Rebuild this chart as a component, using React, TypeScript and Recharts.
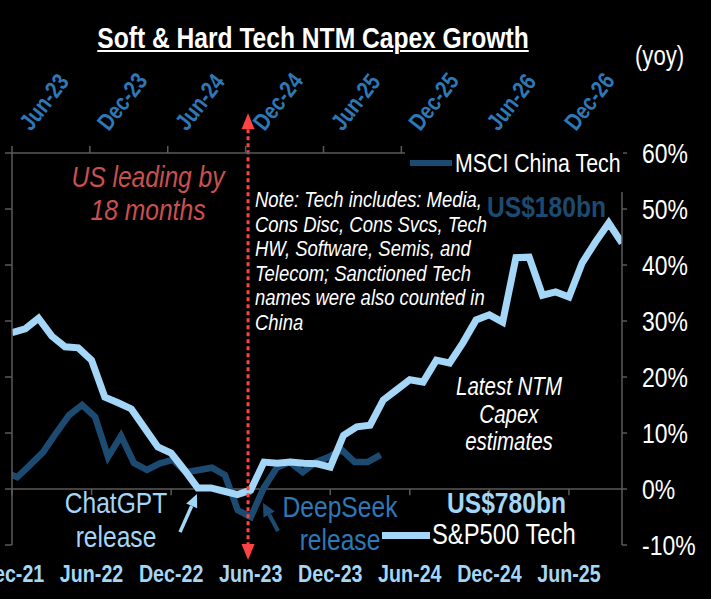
import React from 'react';
import { LineChart, Line, XAxis, YAxis, ReferenceLine } from 'recharts';

const FONT = "'Liberation Sans', Arial, sans-serif";
const SQ = 0.82; // horizontal squeeze to mimic a narrow face

const LIGHT = '#a3d6f7';
const DARK = '#1c4a70';
const MID = '#2e78b7';
const AXIS = '#5a5a5a';
const RED = '#ff4343';
const REDTEXT = '#c9504f';

// S&P500 Tech: months since Dec-21 (bottom axis)
const usMonths = [0, 1, 2, 3, 4, 5, 6, 7, 8, 9, 10, 11, 12, 13, 14, 15, 16, 17, 18, 19, 20, 21, 22, 23, 24, 25, 26, 27, 28, 29, 30, 31, 32, 33, 34, 35, 36, 37, 38, 39, 40, 41, 42, 43, 44, 45, 46];
const usCapexGrowth = [27.9, 28.6, 30.5, 27.3, 25.4, 25.2, 23.0, 16.4, 15.4, 14.3, 10.9, 7.5, 6.4, 3.4, 0.2, 0.2, -0.4, -1.0, -0.2, 4.8, 4.6, 4.8, 4.6, 4.5, 3.9, 9.6, 11.1, 11.4, 15.9, 17.7, 19.5, 19.1, 23.0, 22.5, 26.1, 30.2, 31.1, 29.8, 41.3, 41.4, 34.6, 35.2, 34.3, 40.4, 44.1, 47.5, 43.9];

// MSCI China Tech: months since Jun-23 (top axis, 18 months ahead)
const chinaMonths = [-0.6, 0.4, 1.4, 2.4, 3.4, 4.4, 5.4, 6.4, 7.4, 8.4, 9.4, 10.4, 11.4, 12.4, 13.4, 14.4, 15.4, 16.4, 17.4, 18.4, 19.4, 20.4, 21.4, 22.4, 23.4, 24.4, 25.4, 26.4, 27.4, 28.4];
const chinaCapexGrowth = [3.1, 2.1, 4.3, 6.6, 10.0, 13.2, 15.0, 12.9, 5.7, 9.5, 4.6, 3.4, 4.6, 5.2, 3.0, 3.4, 3.8, 2.5, -3.8, -5.0, 0.2, 3.8, 4.8, 3.0, 4.8, 5.7, 7.0, 4.8, 4.8, 6.1];

const bottomTicks = [0, 6, 12, 18, 24, 30, 36, 42];
const bottomTickLabels = ['Dec-21', 'Jun-22', 'Dec-22', 'Jun-23', 'Dec-23', 'Jun-24', 'Dec-24', 'Jun-25'];
const topTicks = [0, 6, 12, 18, 24, 30, 36, 42];
const topTickLabels = ['Jun-23', 'Dec-23', 'Jun-24', 'Dec-24', 'Jun-25', 'Dec-25', 'Jun-26', 'Dec-26'];
const yTicks = [-10, 0, 10, 20, 30, 40, 50, 60];

const usData = usMonths.map((t, i) => ({ t, v: usCapexGrowth[i] }));
const chinaData = chinaMonths.map((t, i) => ({ t, v: chinaCapexGrowth[i] }));

const BottomTick = (props: any) => {
  const { x, y, payload } = props;
  const i = bottomTicks.indexOf(payload.value);
  return (
    <g transform={`translate(${x},${y + 37}) scale(${SQ},1)`}>
      <text x={0} y={0} textAnchor="middle" fill={LIGHT} fontFamily={FONT} fontWeight="bold" fontSize={24}>
        {bottomTickLabels[i]}
      </text>
    </g>
  );
};

const TopTick = (props: any) => {
  const { x, y, payload } = props;
  const i = topTicks.indexOf(payload.value);
  const ax = x + 19;
  const ay = y - 12;
  return (
    <g transform={`translate(${ax},${ay}) rotate(-52) scale(${SQ},1)`}>
      <text x={0} y={0} textAnchor="start" fill={MID} fontFamily={FONT} fontWeight="bold" fontSize={24}>
        {topTickLabels[i]}
      </text>
    </g>
  );
};

const RightTick = (props: any) => {
  const { x, y, payload } = props;
  return (
    <g transform={`translate(${x},${y}) scale(${SQ},1)`}>
      <text x={0} y={0} dy="0.355em" textAnchor="start" fill="#ffffff" fontFamily={FONT} fontSize={28}>
        {`${payload.value}%`}
      </text>
    </g>
  );
};

const EmptyTick = () => <g />;

const arrowShape = (color: string, width: number, head: number, halfW: number) => (p: any) => {
  const { x1, y1, x2, y2 } = p;
  const dx = x2 - x1;
  const dy = y2 - y1;
  const len = Math.sqrt(dx * dx + dy * dy) || 1;
  const ux = dx / len;
  const uy = dy / len;
  const bx = x2 - ux * head;
  const by = y2 - uy * head;
  const pts = `${x2},${y2} ${bx - uy * halfW},${by + ux * halfW} ${bx + uy * halfW},${by - ux * halfW}`;
  return (
    <g>
      <line x1={x1} y1={y1} x2={bx} y2={by} stroke={color} strokeWidth={width} />
      <polygon points={pts} fill={color} />
    </g>
  );
};

const doubleArrowShape = (p: any) => {
  const { x1, y1, x2, y2 } = p;
  const top = Math.min(y1, y2);
  const bot = Math.max(y1, y2);
  const x = x1;
  const head = 16;
  const hw = 6.5;
  return (
    <g>
      <line x1={x} y1={top + head} x2={x} y2={bot - head} stroke={RED} strokeWidth={3} strokeDasharray="4 3" />
      <polygon points={`${x},${top} ${x - hw},${top + head} ${x + hw},${top + head}`} fill={RED} />
      <polygon points={`${x},${bot} ${x - hw},${bot - head} ${x + hw},${bot - head}`} fill={RED} />
    </g>
  );
};

type TxtProps = {
  left: number;
  top: number;
  width?: number;
  align?: 'left' | 'center';
  size: number;
  color: string;
  bold?: boolean;
  italic?: boolean;
  lh: number;
  underline?: boolean;
  children: React.ReactNode;
};

const Txt = ({ left, top, width, align = 'left', size, color, bold, italic, lh, underline, children }: TxtProps) => (
  <div
    style={{
      position: 'absolute',
      left,
      top,
      width,
      textAlign: align,
      fontSize: size,
      color,
      fontWeight: bold ? 'bold' : 'normal',
      fontStyle: italic ? 'italic' : 'normal',
      lineHeight: `${lh}px`,
      fontFamily: FONT,
      whiteSpace: 'nowrap',
      textDecoration: underline ? 'underline' : 'none',
      textDecorationThickness: underline ? 2 : undefined,
      textUnderlineOffset: underline ? 2 : undefined,
      transform: `scaleX(${SQ})`,
      transformOrigin: align === 'center' ? '50% 50%' : '0 50%',
      pointerEvents: 'none',
    }}
  >
    {children}
  </div>
);

export default function App() {
  return (
    <div style={{ position: 'fixed', left: 0, top: 0, width: 711, height: 599, background: '#000', overflow: 'hidden' }}>
      <LineChart width={711} height={599} margin={{ top: 0, right: 0, bottom: 0, left: 0 }}>
        <XAxis
          xAxisId="bottom"
          orientation="bottom"
          type="number"
          dataKey="t"
          domain={[0, 46]}
          allowDataOverflow
          ticks={bottomTicks}
          interval={0}
          height={54}
          axisLine={false}
          tickLine={false}
          tickSize={0}
          tickMargin={0}
          tick={<BottomTick />}
        />
        <XAxis
          xAxisId="top"
          orientation="top"
          type="number"
          dataKey="t"
          domain={[0, 47]}
          allowDataOverflow
          ticks={topTicks}
          interval={0}
          height={153}
          axisLine={{ stroke: AXIS, strokeWidth: 1.5 }}
          tickLine={{ stroke: AXIS, strokeWidth: 1.5 }}
          tickSize={7}
          tickMargin={2}
          tick={<TopTick />}
        />
        <YAxis
          yAxisId="left"
          orientation="left"
          type="number"
          domain={[-10, 60]}
          allowDataOverflow
          ticks={yTicks}
          interval={0}
          width={12}
          axisLine={{ stroke: AXIS, strokeWidth: 1.5 }}
          tickLine={{ stroke: AXIS, strokeWidth: 1.5 }}
          tickSize={7}
          tick={<EmptyTick />}
        />
        <YAxis
          yAxisId="right"
          orientation="right"
          type="number"
          domain={[-10, 60]}
          allowDataOverflow
          ticks={yTicks}
          interval={0}
          width={89}
          axisLine={{ stroke: AXIS, strokeWidth: 1.5 }}
          tickLine={{ stroke: AXIS, strokeWidth: 1.5 }}
          tickSize={5}
          tickMargin={15}
          tick={<RightTick />}
        />
        <ReferenceLine xAxisId="bottom" yAxisId="left" y={0} stroke={AXIS} strokeWidth={1.5} />
        {bottomTicks.map((t) => (
          <ReferenceLine
            key={`bt${t}`}
            xAxisId="bottom"
            yAxisId="left"
            segment={[{ x: t, y: 0 }, { x: t, y: -1.1 }]}
            stroke={AXIS}
            strokeWidth={1.5}
            ifOverflow="visible"
          />
        ))}
        <Line
          xAxisId="top"
          yAxisId="left"
          data={chinaData}
          dataKey="v"
          name="MSCI China Tech"
          stroke={DARK}
          strokeWidth={6.5}
          dot={false}
          activeDot={false}
          isAnimationActive={false}
        />
        <Line
          xAxisId="bottom"
          yAxisId="left"
          data={usData}
          dataKey="v"
          name="S&P500 Tech"
          stroke={LIGHT}
          strokeWidth={7}
          dot={false}
          activeDot={false}
          isAnimationActive={false}
        />
        <ReferenceLine
          xAxisId="bottom"
          yAxisId="left"
          segment={[{ x: 17.8, y: 67.1 }, { x: 17.8, y: -12.7 }]}
          ifOverflow="visible"
          shape={doubleArrowShape}
        />
        <ReferenceLine
          xAxisId="bottom"
          yAxisId="left"
          segment={[{ x: 12.67, y: -7.7 }, { x: 13.95, y: -0.9 }]}
          ifOverflow="visible"
          shape={arrowShape(LIGHT, 3.5, 13, 6)}
        />
        <ReferenceLine
          xAxisId="bottom"
          yAxisId="left"
          segment={[{ x: 20.06, y: -7.5 }, { x: 18.93, y: -2.5 }]}
          ifOverflow="visible"
          shape={arrowShape(DARK, 4, 13, 6.5)}
        />
      </LineChart>

      {/* legend box for MSCI China Tech */}
      <div style={{ position: 'absolute', left: 405, top: 140, width: 218, height: 52, background: '#000' }} />
      <div style={{ position: 'absolute', left: 410, top: 160, width: 42, height: 6, background: DARK }} />
      <Txt left={455} top={148} size={26} color="#ffffff" lh={30}>MSCI China Tech</Txt>

      <div style={{ position: 'absolute', left: 382, top: 532, width: 48, height: 7, background: LIGHT }} />
      <Txt left={432} top={518} size={29} color="#ffffff" lh={32}>S&amp;P500 Tech</Txt>

      <Txt left={0} top={21} width={626} align="center" size={30} color="#ffffff" bold underline lh={34}>
        Soft &amp; Hard Tech NTM Capex Growth
      </Txt>
      <Txt left={635} top={41} size={27} color="#ffffff" lh={30}>(yoy)</Txt>

      <Txt left={487} top={190} size={30} color={DARK} bold lh={34}>US$180bn</Txt>
      <Txt left={447} top={486} size={30} color={LIGHT} bold lh={34}>US$780bn</Txt>

      <Txt left={48} top={160} width={200} align="center" size={30} color={REDTEXT} italic lh={33}>
        US leading by<br />18 months
      </Txt>

      <Txt left={255} top={188} size={22.5} color="#ffffff" italic lh={24.5}>
        Note: Tech includes: Media,<br />Cons Disc, Cons Svcs, Tech<br />HW, Software, Semis, and<br />Telecom; Sanctioned Tech<br />names were also counted in<br />China
      </Txt>

      <Txt left={409} top={373} width={200} align="center" size={25} color="#ffffff" italic lh={27.5}>
        Latest NTM<br />Capex<br />estimates
      </Txt>

      <Txt left={16} top={486} width={200} align="center" size={30} color={LIGHT} lh={34}>
        ChatGPT<br />release
      </Txt>
      <Txt left={240} top={490} width={200} align="center" size={30} color={MID} lh={33}>
        DeepSeek<br />release
      </Txt>
    </div>
  );
}
